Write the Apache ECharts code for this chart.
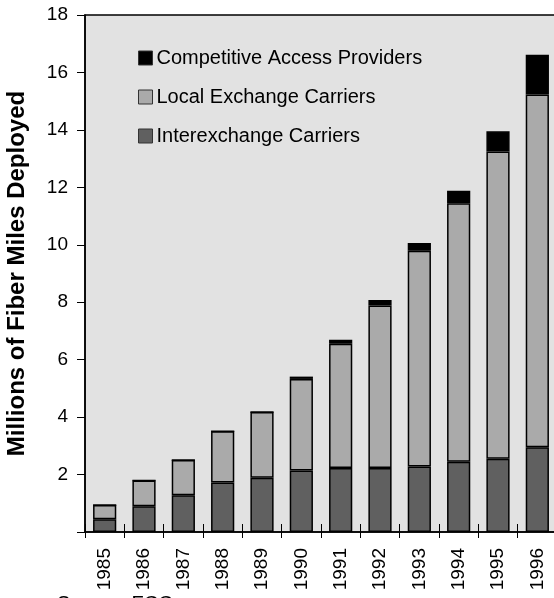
<!DOCTYPE html>
<html>
<head>
<meta charset="utf-8">
<script src="https://cdn.jsdelivr.net/npm/echarts@6/dist/echarts.min.js"></script>
<style>
  html, body { margin: 0; padding: 0; background: #ffffff; }
  #chart { width: 554px; height: 598px; }
</style>
</head>
<body>
<div id="chart"></div>
<script>
// Fiber miles deployed per year, millions, by carrier type
const years = ['1985', '1986', '1987', '1988', '1989', '1990', '1991', '1992', '1993', '1994', '1995', '1996'];
const interexchange = [0.44, 0.90, 1.28, 1.72, 1.89, 2.14, 2.23, 2.23, 2.28, 2.45, 2.55, 2.95];
const localExchange = [0.50, 0.89, 1.23, 1.79, 2.29, 3.19, 4.32, 5.66, 7.51, 9.00, 10.70, 12.28];
const competitive = [0, 0, 0, 0, 0, 0.08, 0.14, 0.19, 0.27, 0.43, 0.70, 1.39];

const yTicks = { min: 0, max: 18, interval: 2 };
const seriesNames = ['Interexchange Carriers', 'Local Exchange Carriers', 'Competitive Access Providers'];

const FONT = '"Liberation Sans", Arial, sans-serif';
const chart = echarts.init(document.getElementById('chart'), null, { renderer: 'canvas' });

function barSeries(name, data, color) {
  return {
    name: name,
    type: 'bar',
    stack: 'total',
    data: data,
    barWidth: '59%',
    itemStyle: { color: color, borderColor: '#000000', borderWidth: 1.5 }
  };
}

chart.setOption({
  animation: false,
  backgroundColor: '#ffffff',
  textStyle: { fontFamily: FONT },
  grid: {
    left: 85, right: -3, top: 15, bottom: 66,
    containLabel: false,
    outerBoundsMode: 'none',
    show: true, backgroundColor: '#e2e2e2', borderColor: '#000000', borderWidth: 1.5
  },
  legend: {
    orient: 'vertical',
    left: 138, top: 48,
    padding: 0,
    itemWidth: 14, itemHeight: 14, itemGap: 19,
    icon: 'rect',
    data: [seriesNames[2], seriesNames[1], seriesNames[0]],
    itemStyle: { borderColor: '#333333', borderWidth: 1 },
    textStyle: { fontFamily: FONT, fontSize: 20, color: '#000000', lineHeight: 20, padding: [0, 0, 0, -1] }
  },
  xAxis: [{
    type: 'category',
    data: years,
    axisLine: { show: true, lineStyle: { color: '#000000', width: 1.5 } },
    axisTick: { show: true, length: 6, lineStyle: { color: '#000000', width: 1 } },
    axisLabel: { rotate: 90, margin: 16, fontSize: 19, color: '#000000', fontFamily: FONT }
  }, {
    type: 'category',
    data: years,
    position: 'bottom',
    axisLine: { show: false },
    axisTick: { show: true, inside: true, length: 8, lineStyle: { color: '#000000', width: 1 } },
    axisLabel: { show: false }
  }],
  yAxis: {
    type: 'value',
    min: yTicks.min, max: yTicks.max, interval: yTicks.interval,
    name: 'Millions of Fiber Miles Deployed',
    nameLocation: 'middle',
    nameGap: 56,
    nameTextStyle: { fontFamily: FONT, fontSize: 24, fontWeight: 'bold', color: '#000000' },
    axisLine: { show: true, lineStyle: { color: '#000000', width: 1.5 } },
    axisTick: { show: true, length: 8, lineStyle: { color: '#000000', width: 1 } },
    splitLine: { show: false },
    axisLabel: {
      margin: 17, fontSize: 19, color: '#000000', fontFamily: FONT,
      formatter: v => (v === 0 ? '' : String(v))
    }
  },
  series: [
    barSeries(seriesNames[0], interexchange, '#606060'),
    barSeries(seriesNames[1], localExchange, '#aaaaaa'),
    barSeries(seriesNames[2], competitive, '#000000')
  ],
  graphic: [{
    type: 'text',
    left: 57, top: 594,
    style: { text: 'Source: FCC', fontFamily: FONT, fontSize: 20, fill: '#000000' }
  }]
});
</script>
</body>
</html>
